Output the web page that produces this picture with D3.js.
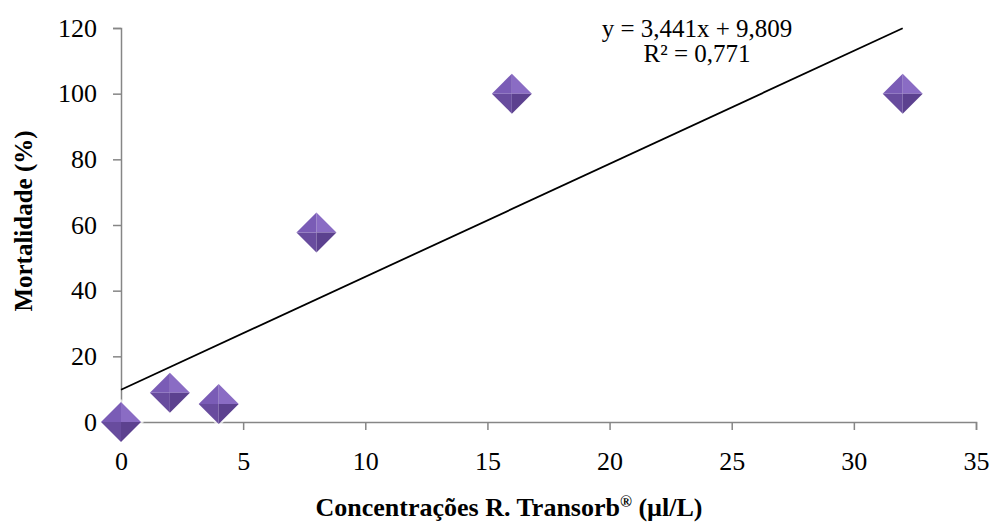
<!DOCTYPE html>
<html><head><meta charset="utf-8">
<script src="https://cdn.jsdelivr.net/npm/d3@7"></script>
<style>body{margin:0;background:#fff}svg{display:block}</style>
</head><body>
<svg id="c" width="994" height="525"></svg>
<script>
const xValues = [0, 2, 4, 8, 16, 32];
const yValues = [0, 8.9, 5.5, 57.7, 100, 100];
const xTicks = [0, 5, 10, 15, 20, 25, 30, 35];
const yTicks = [0, 20, 40, 60, 80, 100, 120];
const slope = 3.441, intercept = 9.809;
const eqLabel = "y = 3,441x + 9,809";
const r2Label = "R² = 0,771";
const xTitle = "Concentrações R. Transorb";
const yTitle = "Mortalidade (%)";

const svg = d3.select("#c");
const x = d3.scaleLinear().domain([0, 35]).range([121, 976]);
const y = d3.scaleLinear().domain([0, 120]).range([422, 28]);
const font = "'Liberation Serif','Times New Roman',serif";
const axisColor = "#868686";

const xAxis = svg.append("g").attr("transform", `translate(0,${y(0)})`)
  .call(d3.axisBottom(x).tickValues(xTicks).tickSize(8).tickPadding(22).tickFormat(d3.format("d")));
const yAxis = svg.append("g").attr("transform", `translate(${x(0)},0)`)
  .call(d3.axisLeft(y).tickValues(yTicks).tickSize(8).tickPadding(16).tickFormat(d3.format("d")));
[xAxis, yAxis].forEach(g => {
  g.select(".domain").attr("stroke", axisColor).attr("stroke-width", 1.5);
  g.selectAll(".tick line").attr("stroke", axisColor).attr("stroke-width", 1.5);
  g.selectAll(".tick text").attr("fill", "#000").style("font-family", font).style("font-size", "26px");
});

// trendline
svg.append("line")
  .attr("x1", x(0)).attr("y1", y(intercept))
  .attr("x2", x(32)).attr("y2", y(slope * 32 + intercept))
  .attr("stroke", "#000").attr("stroke-width", 1.8);

// markers
const h = 20;
const pts = xValues.map((v, i) => [x(v), y(yValues[i])]);
const mk = svg.append("g").selectAll("g").data(pts).join("g")
  .attr("transform", d => `translate(${d[0]},${d[1]})`);
mk.append("path").attr("d", `M0,${-h-3}L${h+3},0L0,${h+3}L${-h-3},0Z`).attr("fill", "#fff").attr("opacity", 0.7);
const faces = [
  [[0,-h],[h,0],[0,0],"#8a6cc4"],
  [[h,0],[0,h],[0,0],"#5c418f"],
  [[0,h],[-h,0],[0,0],"#684c9e"],
  [[-h,0],[0,-h],[0,0],"#7a5cb6"]
];
faces.forEach(f => {
  mk.append("path").attr("d", `M${f[0][0]},${f[0][1]}L${f[1][0]},${f[1][1]}L${f[2][0]},${f[2][1]}Z`).attr("fill", f[3]);
});

// equation
svg.append("text").attr("x", 697).attr("y", 37).attr("text-anchor", "middle")
  .style("font-family", font).style("font-size", "25px").text(eqLabel);
svg.append("text").attr("x", 697).attr("y", 62).attr("text-anchor", "middle")
  .style("font-family", font).style("font-size", "25px").text(r2Label);

// axis titles
const xt = svg.append("text").attr("x", 509).attr("y", 516).attr("text-anchor", "middle")
  .style("font-family", font).style("font-size", "26px").style("font-weight", "bold");
xt.append("tspan").text(xTitle);
xt.append("tspan").attr("dy", -9).style("font-size", "16px").text("®");
xt.append("tspan").attr("dy", 9).text(" (µl/L)");
svg.append("text").attr("transform", `translate(32,221) rotate(-90)`).attr("text-anchor", "middle")
  .style("font-family", font).style("font-size", "25px").style("font-weight", "bold").text(yTitle);
</script>
</body></html>
